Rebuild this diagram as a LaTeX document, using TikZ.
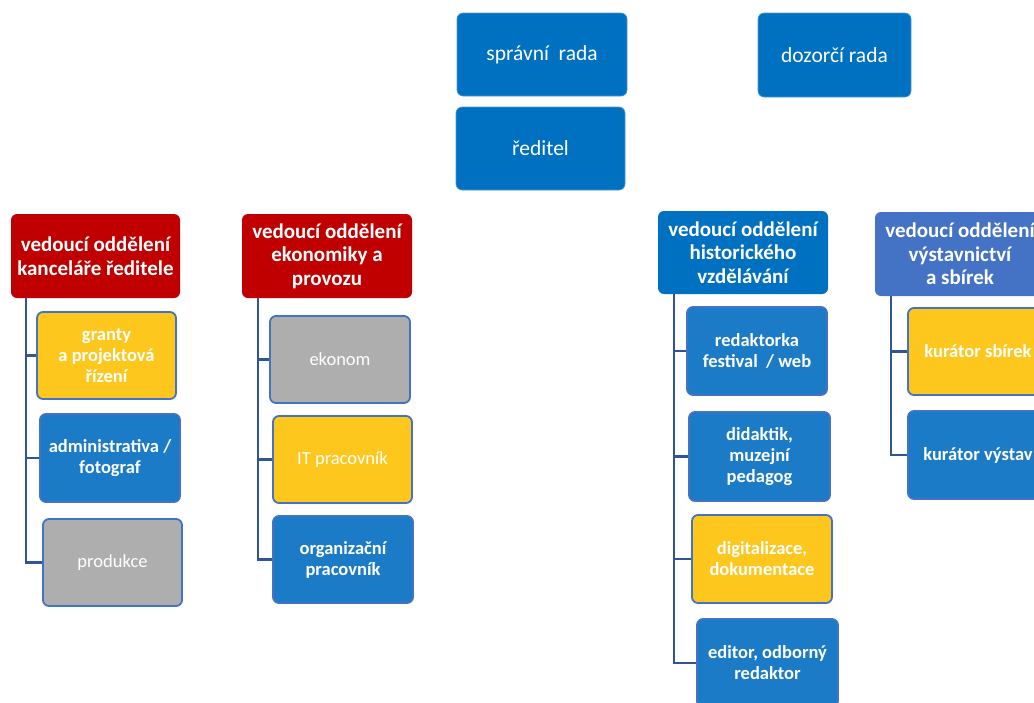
\documentclass[tikz,border=0pt]{standalone}
\usepackage{fontspec}
\setmainfont{Carlito}
\definecolor{hred}{HTML}{C00000}
\definecolor{hblue}{HTML}{0070C0}
\definecolor{vblue}{HTML}{4472C4}
\definecolor{cblue}{HTML}{1C7BC6}
\definecolor{cyel}{HTML}{FEC71E}
\definecolor{cgray}{HTML}{AEAEAE}
\definecolor{cborder}{HTML}{4472C4}
\definecolor{conn}{HTML}{2F5597}
\tikzset{
  base/.style={rectangle, rounded corners=6pt, align=center, text=white, inner sep=1pt},
  topbox/.style={base, fill=hblue, draw=hblue!70!white, line width=0.6pt, font=\fontsize{21.5}{24}\selectfont},
  headbox/.style={base, font=\bfseries\fontsize{21}{23.5}\selectfont},
  childbox/.style={base, draw=cborder, line width=1.8pt, font=\bfseries\fontsize{18.5}{21}\selectfont},
  plainchild/.style={childbox, font=\fontsize{18.5}{21}\selectfont},
  connline/.style={draw=conn, line width=2.2pt},
}
\begin{document}
\begin{tikzpicture}[x=1pt,y=-1pt]
\clip (0,0) rectangle (1034,702);
\fill[white] (0,0) rectangle (1034,702);
% top
\node[topbox, minimum width=170pt, minimum height=83pt] (spr) at (542,54.5) {správní\ \ rada};
\node[topbox, minimum width=153pt, minimum height=84pt] (doz) at (834.5,55) {dozorčí rada};
\node[topbox, minimum width=169pt, minimum height=83pt] (red) at (540.5,148.5) {ředitel};
% headers
\node[headbox, fill=hred, minimum width=169pt, minimum height=84pt] (h1) at (95.5,256) {vedoucí oddělení\\kanceláře ředitele};
\node[headbox, fill=hred, minimum width=170pt, minimum height=84pt] (h2) at (327,256) {vedoucí oddělení\\ekonomiky a\\provozu};
\node[headbox, fill=hblue, minimum width=170pt, minimum height=83pt] (h3) at (743,252.5) {vedoucí oddělení\\historického\\vzdělávání};
\node[headbox, fill=vblue, minimum width=170pt, minimum height=84pt] (h4) at (960,254) {vedoucí oddělení\\výstavnictví\\a sbírek};
% column 1
\node[childbox, fill=cyel, minimum width=139pt, minimum height=87pt] (granty) at (106.5,355.5) {granty\\a projektová\\řízení};
\node[childbox, fill=cblue, minimum width=140pt, minimum height=88pt] (admin) at (110,458) {administrativa /\\fotograf};
\node[plainchild, fill=cgray, minimum width=139pt, minimum height=87pt] (prod) at (112.5,562.5) {produkce};
% column 2
\node[plainchild, fill=cgray, minimum width=140pt, minimum height=87pt] (ekonom) at (340,359.5) {ekonom};
\node[plainchild, fill=cyel, minimum width=139pt, minimum height=87pt] (it) at (342.5,459.5) {IT pracovník};
\node[childbox, fill=cblue, minimum width=140pt, minimum height=87pt] (org) at (343,559.5) {organizační\\pracovník};
% column 3
\node[childbox, fill=cblue, minimum width=140pt, minimum height=88pt] (redak) at (757,351) {redaktorka\\festival\ \ / web};
\node[childbox, fill=cblue, minimum width=141pt, minimum height=89pt] (didak) at (759.5,456.5) {didaktik,\\muzejní\\pedagog};
\node[childbox, fill=cyel, minimum width=140pt, minimum height=88pt] (digit) at (762,559) {digitalizace,\\dokumentace};
\node[childbox, fill=cblue, minimum width=141pt, minimum height=88pt] (editor) at (767.5,663) {editor, odborný\\redaktor};
% column 4
\node[childbox, fill=cyel, minimum width=140pt, minimum height=87pt] (kursb) at (978,351.5) {kurátor sbírek};
\node[childbox, fill=cblue, minimum width=140pt, minimum height=88pt] (kurvy) at (978,455) {kurátor výstav};
% connectors
\coordinate (k1) at (26,298);
\coordinate (k2) at (258,298);
\coordinate (k3) at (674,294);
\coordinate (k4) at (891,296);
\draw[connline] (k1) |- (granty.west);
\draw[connline] (k1) |- (admin.west);
\draw[connline] (k1) |- (prod.west);
\draw[connline] (k2) |- (ekonom.west);
\draw[connline] (k2) |- (it.west);
\draw[connline] (k2) |- (org.west);
\draw[connline] (k3) |- (redak.west);
\draw[connline] (k3) |- (didak.west);
\draw[connline] (k3) |- (digit.west);
\draw[connline] (k3) |- (editor.west);
\draw[connline] (k4) |- (kursb.west);
\draw[connline] (k4) |- (kurvy.west);
\end{tikzpicture}
\end{document}
